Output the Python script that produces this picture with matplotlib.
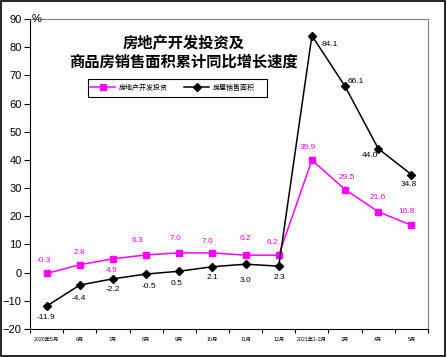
import matplotlib
matplotlib.use("Agg")
import matplotlib.pyplot as plt
from matplotlib.patches import Rectangle

plt.rcParams['font.family'] = ['Liberation Sans', 'Noto Sans CJK SC']

# data
months = ["2020年5月", "6月", "7月", "8月", "9月", "10月", "11月", "12月",
          "2021年1-2月", "3月", "4月", "5月"]
invest = [-0.3, 2.8, 4.9, 6.3, 7.0, 7.0, 6.2, 6.2, 39.9, 29.5, 21.6, 16.8]
sales = [-11.9, -4.4, -2.2, -0.5, 0.5, 2.1, 3.0, 2.3, 84.1, 66.1, 44.0, 34.8]

# label offsets in pixels (dx, dy), y up
inv_off = [(-3, 13), (0, 12), (-1, -12), (-9, 14), (-4, 14), (-5, 11), (0, 17), (-6, 13),
           (-4, 13), (2, 12), (0, 14), (-5, 14)]
sal_off = [(-1, -11), (-1, -13), (0, -11), (3, -12), (-3, -12), (0, -11), (0, -16), (1, -11),
           (18, -9), (11, 5), (-8, -7), (-3, -10)]

mag = "#FF00FF"

fig = plt.figure(figsize=(4.47, 3.57), dpi=100)
ax = fig.add_axes([30/447, 28/357, 398/447, 310/357])

x = list(range(len(months)))
l1, = ax.plot(x, invest, color=mag, lw=1.1, marker="s", ms=5, label="房地产开发投资")
l2, = ax.plot(x, sales, color="black", lw=1.1, marker="D", ms=4, label="房屋销售面积")

for i in x:
    ax.annotate(f"{invest[i]:.1f}", (i, invest[i]), xytext=inv_off[i], textcoords="offset pixels",
                ha="center", va="center", fontsize=6, color=mag)
    ax.annotate(f"{sales[i]:.1f}", (i, sales[i]), xytext=sal_off[i], textcoords="offset pixels",
                ha="center", va="center", fontsize=6, color="black")

ax.set_xlim(-0.5, len(months) - 0.5)
ax.set_ylim(-20, 90)
ax.set_yticks(range(-20, 91, 10))
ax.tick_params(axis="y", labelsize=8, length=4, width=0.8, direction="out", pad=2)
ax.set_xticks(x)
ax.set_xticklabels(months, fontsize=3.8)
ax.set_xticks([i - 0.5 for i in range(len(months) + 1)], minor=True)
ax.tick_params(axis="x", which="major", length=0, pad=6)
ax.tick_params(axis="x", which="minor", length=3, width=0.8, direction="out")

for s in ["top", "right"]:
    ax.spines[s].set_color("#808080")
    ax.spines[s].set_linewidth(0.8)
for s in ["left", "bottom"]:
    ax.spines[s].set_color("black")
    ax.spines[s].set_linewidth(0.8)

ax.text(0.005, 90, "%", fontsize=8, ha="left", va="center",
        transform=ax.get_yaxis_transform())

fig.text(184/447, 1 - 52/357, "房地产开发投资及\n商品房销售面积累计同比增长速度",
         ha="center", va="center", fontsize=11, fontweight="bold", linespacing=1.2,
         family=["Noto Sans CJK SC"])

# legend, box drawn separately
leg = fig.legend(handles=[l1, l2], loc="center left", bbox_to_anchor=(90/447, 1 - 88/357),
                 ncol=2, fontsize=5, frameon=False, handlelength=3.6, handletextpad=0.6,
                 columnspacing=2.3, borderpad=0, borderaxespad=0)
fig.patches.append(Rectangle((88/447, 1 - 97/357), 179/447, 18/357, transform=fig.transFigure,
                             fill=False, edgecolor="black", linewidth=0.8))

fig.patches.append(Rectangle((0.002, 0.003), 0.994, 0.994, transform=fig.transFigure,
                             fill=False, edgecolor="black", linewidth=1.2))

fig.savefig("out.png", dpi=100)
